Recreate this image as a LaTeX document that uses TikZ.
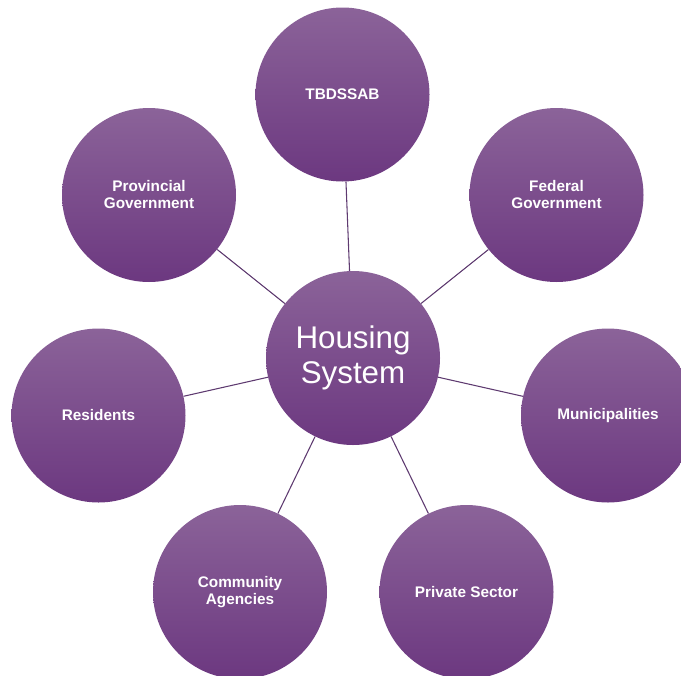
\documentclass[tikz,border=0pt]{standalone}
\usepackage{fontspec}
\setmainfont{Liberation Sans}
\definecolor{circtop}{RGB}{139,99,153}
\definecolor{circbot}{RGB}{108,56,128}
\definecolor{linkcol}{RGB}{94,58,112}
\tikzset{
  bubble/.style={circle, minimum size=130.5pt, inner sep=0pt, shade,
    top color=circtop, bottom color=circbot, text=white, align=center,
    font=\fontsize{11.5}{12.75}\selectfont\bfseries},
  hub/.style={bubble, font=\fontsize{23.5}{26}\selectfont},
  link/.style={draw=linkcol, line width=0.8pt}
}

\begin{document}
\begin{tikzpicture}[x=0.75pt, y=-0.75pt]
  \useasboundingbox (0,0) rectangle (681,675);
  \clip (0,0) rectangle (681,675);

  % circle centres
  \coordinate (H) at (353,358);
  \coordinate (T) at (342.5,94.5);
  \coordinate (P) at (149,195);
  \coordinate (F) at (556.5,195);
  \coordinate (R) at (98.5,415.5);
  \coordinate (M) at (608,415.5);
  \coordinate (C) at (240,592);
  \coordinate (S) at (466.5,592);

  % circles
  \node [hub] (hub) at (H) {Housing\\System};
  \node [bubble] (tbd) at (T) {TBDSSAB};
  \node [bubble] (prov) at (P) {Provincial\\Government};
  \node [bubble] (fed) at (F) {Federal\\Government};
  \node [bubble] (res) at (R) {Residents};
  \node [bubble] (mun) at (M) {Municipalities};
  \node [bubble] (com) at (C) {Community\\Agencies};
  \node [bubble] (priv) at (S) {Private Sector};

  % connectors
  \foreach \n in {tbd,prov,fed,res,mun,com,priv}
    \draw [link] (hub) -- (\n);
\end{tikzpicture}
\end{document}
